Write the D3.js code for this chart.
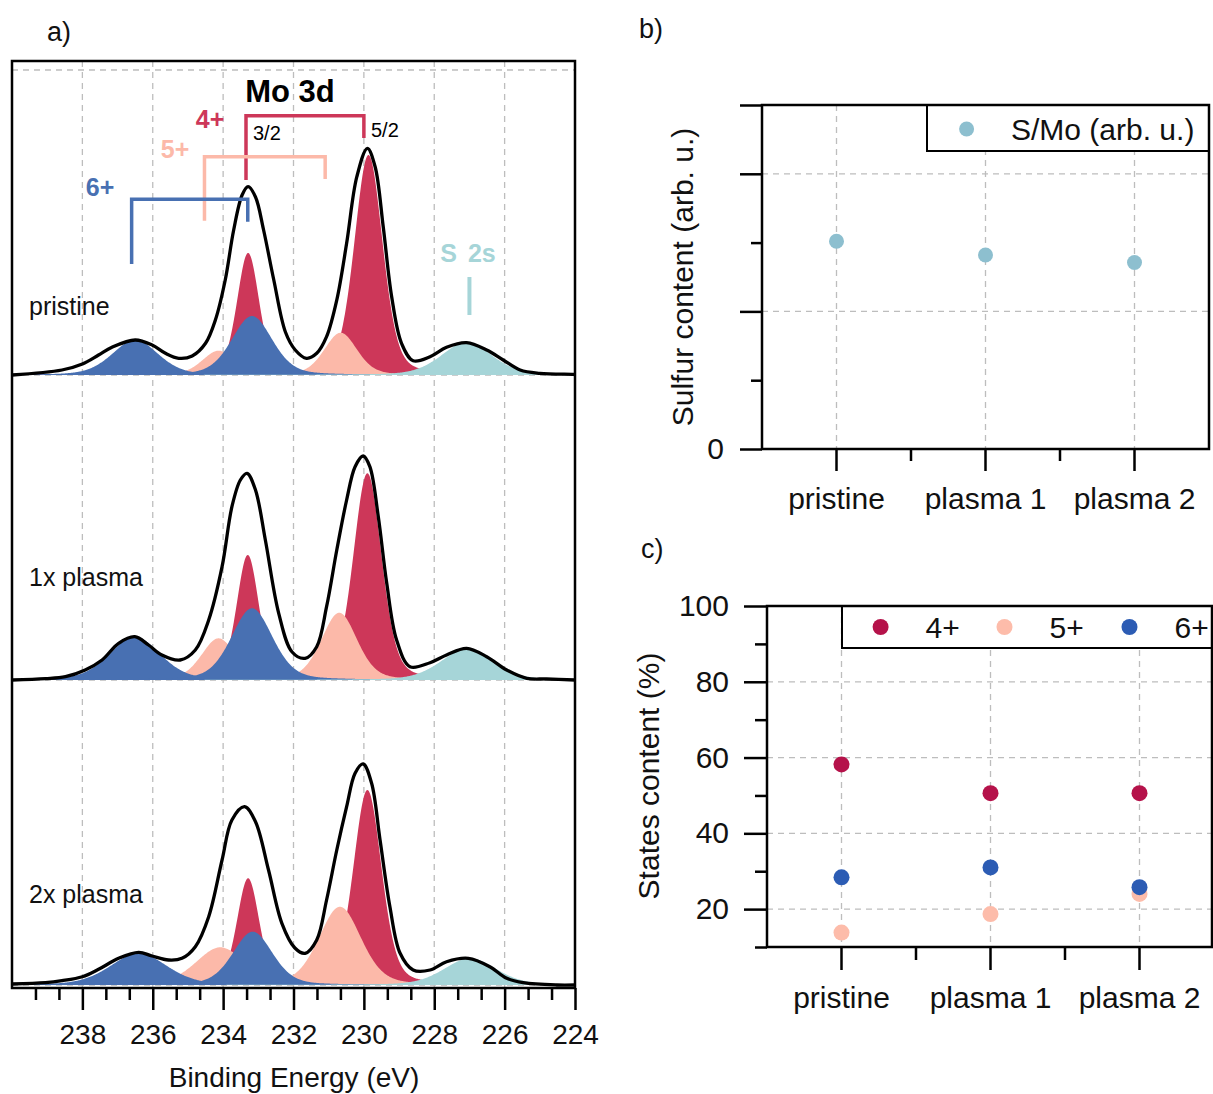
<!DOCTYPE html>
<html>
<head>
<meta charset="utf-8">
<script src="https://cdn.jsdelivr.net/npm/d3@7"></script>
<style>
  body { margin: 0; background: #fff; }
  text { font-family: Arial, "Liberation Sans", sans-serif; }
</style>
</head>
<body>
<script>
const W = 1213, H = 1094;

// ---- panel a: Mo 3d spectra ----
const energyTicks = [238, 236, 234, 232, 230, 228, 226, 224];
const spectrumLabels = ['pristine', '1x plasma', '2x plasma'];
const spectrumOffset = [610, 305, 0];

// measured envelopes (binding energy, intensity arb. u.)
const envPristineE = [240, 238.58, 238.0, 237.54, 237.16, 236.5, 236.02, 235.64, 235.26, 234.88, 234.5, 234.22, 233.94, 233.7, 233.46, 233.29, 233.08, 232.85, 232.56, 232.23, 231.95, 231.63, 231.34, 231.06, 230.77, 230.49, 230.2, 229.9, 229.68, 229.45, 229.21, 228.93, 228.6, 228.12, 227.65, 227.08, 226.51, 226.04, 225.56, 225.0, 224.05, 224];
const envPristineI = [0, 5, 11, 20, 27.7, 35, 30, 21.7, 16.7, 19, 31.7, 55, 95, 145, 180, 188.3, 178, 145, 95, 43, 25, 16.7, 21.7, 38.3, 75, 131.7, 198.3, 226.7, 208.3, 148.3, 78.3, 31.7, 14.3, 18.3, 27.7, 32.3, 25, 15, 5, 1.7, 0.7, 0.5];
const envPlasma1E = [240, 239.05, 238.48, 237.92, 237.44, 236.97, 236.51, 236.12, 235.74, 235.22, 234.79, 234.41, 234.03, 233.75, 233.51, 233.32, 233.08, 232.8, 232.42, 232.04, 231.67, 231.34, 231.06, 230.77, 230.49, 230.25, 230.02, 229.83, 229.59, 229.35, 229.07, 228.69, 228.12, 227.65, 227.08, 226.51, 225.94, 225.37, 224.81, 224];
const envPlasma1I = [0, 1.3, 3.3, 10, 20, 36.7, 43.3, 35, 25, 20, 30, 60, 113.3, 173.3, 200, 206.7, 190, 140, 66.7, 28, 21.7, 33.3, 73.3, 130, 180, 213.3, 224, 213.3, 163.3, 96.7, 40, 13.3, 17.3, 25, 31.7, 23.3, 10, 1.7, 1, 0];
const envPlasma2E = [240, 239.05, 238.58, 238.0, 237.54, 236.97, 236.4, 236.02, 235.55, 235.17, 234.79, 234.41, 234.03, 233.75, 233.39, 233.08, 232.71, 232.33, 231.96, 231.67, 231.34, 231.06, 230.77, 230.49, 230.25, 230.02, 229.78, 229.54, 229.26, 228.97, 228.6, 228.12, 227.65, 227.03, 226.42, 225.94, 225.47, 224.52, 224];
const envPlasma2I = [1, 2.3, 4.3, 8.3, 15.7, 26.7, 32.7, 29, 25, 26.7, 38.3, 68.3, 125, 165, 178.3, 163.3, 115, 61.7, 37, 31.7, 45, 85, 135, 178.3, 211.7, 221, 201.7, 145, 78.3, 31.7, 15, 15, 23.3, 26.7, 18.3, 6.7, 2.3, 0, 0];

// fitted components: 4+ (3/2, 5/2), 5+ (3/2, 5/2), 6+ (3/2, 5/2), S 2s
const componentState = ['4+', '4+', '5+', '5+', '6+', '6+', 'S 2s'];
const centerPristine = [233.29, 229.87, 234.13, 230.66, 236.5, 233.18, 227.08];
const heightPristine = [122, 220, 24.3, 42.3, 35, 59, 32.7];
const fwhmPristine   = [0.75, 0.95, 1.1, 1.1, 1.55, 1.36, 1.7];
const centerPlasma1  = [233.3, 229.9, 234.13, 230.7, 236.51, 233.18, 227.08];
const heightPlasma1  = [125, 206.7, 41.7, 67.3, 43.3, 71.7, 30.7];
const fwhmPlasma1    = [0.75, 0.95, 1.15, 1.2, 1.7, 1.38, 1.75];
const centerPlasma2  = [233.29, 229.9, 234.08, 230.68, 236.4, 233.16, 226.98];
const heightPlasma2  = [106.7, 195, 37.7, 78.3, 31.7, 53.3, 26.7];
const fwhmPlasma2    = [0.75, 0.95, 1.65, 1.42, 1.9, 1.33, 1.75];

// ---- panel b: S/Mo ratio ----
const samples = ['pristine', 'plasma 1', 'plasma 2'];
const sulfurContent = [1.51, 1.41, 1.355];

// ---- panel c: oxidation states ----
const states = ['4+', '5+', '6+'];
const state4 = [58.2, 50.6, 50.6];
const state5 = [13.8, 18.7, 24.0];
const state6 = [28.4, 31.0, 25.8];
const stateTicks = [20, 40, 60, 80, 100];

const fillColor = {'4+': '#cd3759', '5+': '#fcb9a9', '6+': '#4870b2', 'S 2s': '#a6d5d8'};
const dotColor = {'4+': '#b5124a', '5+': '#fdbcaa', '6+': '#2c5cb4'};
const gridColor = '#bdbdbd';
const FONT = 'Arial, "Liberation Sans", sans-serif';

const svg = d3.select('body').append('svg')
    .attr('width', W).attr('height', H);

// pseudo-Voigt line shape of a fitted component
const pv = (e, c, h, w) => {
    const t = (e - c) / w;
    return h * (0.7 * Math.exp(-4 * Math.LN2 * t * t) + 0.3 / (1 + 4 * t * t));
};

// ================= panel a =================
const xa = d3.scaleLinear().domain([240, 224]).range([12, 575]);
const ya = d3.scaleLinear().domain([-3, 924]).range([988, 61]);
const ga = svg.append('g');

ga.append('clipPath').attr('id', 'clipA')
    .append('rect').attr('x', 12).attr('y', 61).attr('width', 563).attr('height', 927);

// grid
ga.selectAll('.vgrid').data(energyTicks.slice(0, -1)).enter().append('line')
    .attr('x1', d => xa(d)).attr('x2', d => xa(d))
    .attr('y1', ya(924)).attr('y2', ya(-3))
    .attr('stroke', gridColor).attr('stroke-width', 1.3).attr('stroke-dasharray', '6,5');
ga.selectAll('.hgrid').data([0, 305, 610, 915]).enter().append('line')
    .attr('x1', xa(240)).attr('x2', xa(224))
    .attr('y1', d => ya(d)).attr('y2', d => ya(d))
    .attr('stroke', gridColor).attr('stroke-width', 1.3).attr('stroke-dasharray', '6,5');

const grid = d3.range(224, 240.001, 0.02);
const fits = [
    {c: centerPristine, h: heightPristine, w: fwhmPristine, eE: envPristineE, eI: envPristineI},
    {c: centerPlasma1, h: heightPlasma1, w: fwhmPlasma1, eE: envPlasma1E, eI: envPlasma1I},
    {c: centerPlasma2, h: heightPlasma2, w: fwhmPlasma2, eE: envPlasma2E, eI: envPlasma2I}
];
const drawOrder = ['4+', '5+', '6+', 'S 2s'];
const plot = ga.append('g').attr('clip-path', 'url(#clipA)');

fits.forEach((f, s) => {
    const off = spectrumOffset[s];
    drawOrder.forEach(st => {
        componentState.forEach((cs, i) => {
            if (cs !== st) return;
            const area = d3.area()
                .x(e => xa(e))
                .y0(ya(off))
                .y1(e => ya(off + pv(e, f.c[i], f.h[i], f.w[i])));
            plot.append('path').attr('d', area(grid))
                .attr('fill', fillColor[st]);
        });
    });
    const env = d3.line()
        .x(i => xa(f.eE[i]))
        .y(i => ya(off + f.eI[i]))
        .curve(d3.curveCatmullRom.alpha(0.5));
    plot.append('path').attr('d', env(d3.range(f.eE.length)))
        .attr('fill', 'none').attr('stroke', '#000').attr('stroke-width', 3.3)
        .attr('stroke-linejoin', 'round');
});

// sample names
const labelY = [315, 586, 903];
ga.selectAll('.slab').data(spectrumLabels).enter().append('text')
    .attr('x', 29).attr('y', (d, i) => labelY[i])
    .attr('font-size', 25).attr('fill', '#111').text(d => d);

// frame
ga.append('rect').attr('x', 12).attr('y', 61).attr('width', 563).attr('height', 927)
    .attr('fill', 'none').attr('stroke', '#000').attr('stroke-width', 2.5);

// bottom axis: major + minor ticks
const axA = ga.append('g').attr('transform', `translate(0,${ya(-3)})`)
    .call(d3.axisBottom(xa).tickValues(energyTicks).tickSize(22).tickPadding(14).tickFormat(d3.format('d')));
axA.select('.domain').remove();
axA.selectAll('line').attr('stroke-width', 2.5);
axA.selectAll('text').attr('font-size', 28).attr('fill', '#111').attr('font-family', FONT);
const minorA = d3.range(1, 24).map(i => 240 - i * 2 / 3).filter((d, i) => (i + 1) % 3 !== 0);
const axAm = ga.append('g').attr('transform', `translate(0,${ya(-3)})`)
    .call(d3.axisBottom(xa).tickValues(minorA).tickSize(12).tickFormat(''));
axAm.select('.domain').remove();
axAm.selectAll('line').attr('stroke-width', 2.5);

ga.append('text').attr('x', 294).attr('y', 1087).attr('text-anchor', 'middle')
    .attr('font-size', 28).attr('fill', '#111').text('Binding Energy (eV)');

// annotations: spin-orbit brackets (energy, intensity)
const brackets = [
    {st: '4+', e1: 233.35, e2: 230.0, top: 869.3, b1: 805, b2: 847},
    {st: '5+', e1: 234.53, e2: 231.1, top: 828.3, b1: 764.3, b2: 806},
    {st: '6+', e1: 236.6, e2: 233.3, top: 785.7, b1: 721, b2: 763.3}
];
ga.selectAll('.br').data(brackets).enter().append('path')
    .attr('d', d => d3.line()([[xa(d.e1), ya(d.b1)], [xa(d.e1), ya(d.top)], [xa(d.e2), ya(d.top)], [xa(d.e2), ya(d.b2)]]))
    .attr('fill', 'none').attr('stroke', d => fillColor[d.st]).attr('stroke-width', 3.5);
ga.append('line').attr('x1', xa(227.0)).attr('x2', xa(227.0))
    .attr('y1', ya(708)).attr('y2', ya(670))
    .attr('stroke', fillColor['S 2s']).attr('stroke-width', 4);

ga.append('text').attr('x', 290).attr('y', 102).attr('text-anchor', 'middle')
    .attr('font-size', 31).attr('font-weight', 'bold').attr('fill', '#000').text('Mo 3d');
const stLabels = [
    {t: '4+', x: 210, y: 128}, {t: '5+', x: 175, y: 158}, {t: '6+', x: 100, y: 196}
];
ga.selectAll('.stl').data(stLabels).enter().append('text')
    .attr('x', d => d.x).attr('y', d => d.y).attr('text-anchor', 'middle')
    .attr('font-size', 25).attr('font-weight', 'bold')
    .attr('fill', d => fillColor[d.t]).text(d => d.t);
ga.append('text').attr('x', 468).attr('y', 262).attr('text-anchor', 'middle')
    .attr('font-size', 25).attr('font-weight', 'bold').attr('fill', fillColor['S 2s'])
    .attr('word-spacing', 4).text('S 2s');
ga.append('text').attr('x', 253).attr('y', 140).attr('font-size', 20).text('3/2');
ga.append('text').attr('x', 371).attr('y', 137).attr('font-size', 20).text('5/2');

svg.append('text').attr('x', 47).attr('y', 41).attr('font-size', 27).attr('fill', '#111').text('a)');

// ================= panel b =================
const xb = d3.scaleBand().domain(samples).range([762, 1209]);
const yb = d3.scaleLinear().domain([0, 2.5]).range([449, 105]);
const gb = svg.append('g');
const cx = (sc, d) => sc(d) + sc.bandwidth() / 2;

gb.selectAll('.vg').data(samples).enter().append('line')
    .attr('x1', d => cx(xb, d)).attr('x2', d => cx(xb, d))
    .attr('y1', yb(2.5)).attr('y2', yb(0))
    .attr('stroke', gridColor).attr('stroke-width', 1.3).attr('stroke-dasharray', '6,5');
gb.selectAll('.hg').data([1, 2]).enter().append('line')
    .attr('x1', 762).attr('x2', 1209)
    .attr('y1', d => yb(d)).attr('y2', d => yb(d))
    .attr('stroke', gridColor).attr('stroke-width', 1.3).attr('stroke-dasharray', '6,5');

gb.selectAll('.dot').data(sulfurContent).enter().append('circle')
    .attr('cx', (d, i) => cx(xb, samples[i])).attr('cy', d => yb(d))
    .attr('r', 7.5).attr('fill', '#8dbfcf');

// legend b
gb.append('rect').attr('x', 927).attr('y', 105).attr('width', 282).attr('height', 46)
    .attr('fill', '#fff').attr('stroke', '#000').attr('stroke-width', 2);
gb.append('circle').attr('cx', 966.6).attr('cy', 129).attr('r', 7.5).attr('fill', '#8dbfcf');
gb.append('text').attr('x', 1011).attr('y', 140).attr('font-size', 30).attr('fill', '#111').text('S/Mo (arb. u.)');

gb.append('rect').attr('x', 762).attr('y', 105).attr('width', 447).attr('height', 344)
    .attr('fill', 'none').attr('stroke', '#000').attr('stroke-width', 2.5);

const axBx = gb.append('g').attr('transform', 'translate(0,449)')
    .call(d3.axisBottom(xb).tickSize(22).tickPadding(17));
axBx.select('.domain').remove();
axBx.selectAll('line').attr('stroke-width', 2.5);
axBx.selectAll('text').attr('font-size', 30).attr('fill', '#111').attr('font-family', FONT);
const axBm = gb.append('g').attr('transform', 'translate(0,449)')
    .call(d3.axisBottom(d3.scaleLinear().range([0, 1])).tickValues([xb(samples[1]), xb(samples[2])]).tickSize(12).tickFormat(''));
axBm.select('.domain').remove();
axBm.selectAll('.tick').attr('transform', d => `translate(${d},0)`);
axBm.selectAll('line').attr('stroke-width', 2.5);

const axBy = gb.append('g').attr('transform', 'translate(762,0)')
    .call(d3.axisLeft(yb).tickValues([0, 1, 2, 2.5]).tickSize(22).tickPadding(16)
        .tickFormat(d => d === 0 ? '0' : ''));
axBy.select('.domain').remove();
axBy.selectAll('line').attr('stroke-width', 2.5);
axBy.selectAll('text').attr('font-size', 30).attr('fill', '#111').attr('font-family', FONT);
const axByM = gb.append('g').attr('transform', 'translate(762,0)')
    .call(d3.axisLeft(yb).tickValues([0.5, 1.5]).tickSize(11).tickFormat(''));
axByM.select('.domain').remove();
axByM.selectAll('line').attr('stroke-width', 2.5);

gb.append('text').attr('transform', 'translate(693,277) rotate(-90)')
    .attr('text-anchor', 'middle').attr('font-size', 30).attr('fill', '#111')
    .text('Sulfur content (arb. u.)');
svg.append('text').attr('x', 639).attr('y', 38).attr('font-size', 27).attr('fill', '#111').text('b)');

// ================= panel c =================
const xc = d3.scaleBand().domain(samples).range([767, 1214]);
const yc = d3.scaleLinear().domain([10, 100]).range([947, 606]);
const gc = svg.append('g');

gc.selectAll('.vg').data(samples).enter().append('line')
    .attr('x1', d => cx(xc, d)).attr('x2', d => cx(xc, d))
    .attr('y1', yc(100)).attr('y2', yc(10))
    .attr('stroke', gridColor).attr('stroke-width', 1.3).attr('stroke-dasharray', '6,5');
gc.selectAll('.hg').data([20, 40, 60, 80]).enter().append('line')
    .attr('x1', 767).attr('x2', 1212)
    .attr('y1', d => yc(d)).attr('y2', d => yc(d))
    .attr('stroke', gridColor).attr('stroke-width', 1.3).attr('stroke-dasharray', '6,5');

const stateSeries = [state4, state5, state6];
stateSeries.forEach((vals, k) => {
    gc.selectAll('.d' + k).data(vals).enter().append('circle')
        .attr('cx', (d, i) => cx(xc, samples[i])).attr('cy', d => yc(d))
        .attr('r', 8).attr('fill', dotColor[states[k]]);
});

// legend c
gc.append('rect').attr('x', 842).attr('y', 606).attr('width', 370).attr('height', 42)
    .attr('fill', '#fff').attr('stroke', '#000').attr('stroke-width', 2);
const legX = [880.6, 1004.5, 1129.5];
gc.selectAll('.lc').data(states).enter().append('circle')
    .attr('cx', (d, i) => legX[i]).attr('cy', 627).attr('r', 8).attr('fill', d => dotColor[d]);
gc.selectAll('.lt').data(states).enter().append('text')
    .attr('x', (d, i) => legX[i] + 45).attr('y', 638)
    .attr('font-size', 30).attr('fill', '#111').text(d => d);

gc.append('rect').attr('x', 767).attr('y', 606).attr('width', 445).attr('height', 341)
    .attr('fill', 'none').attr('stroke', '#000').attr('stroke-width', 2.5);

const axCx = gc.append('g').attr('transform', 'translate(0,947)')
    .call(d3.axisBottom(xc).tickSize(23).tickPadding(17));
axCx.select('.domain').remove();
axCx.selectAll('line').attr('stroke-width', 2.5);
axCx.selectAll('text').attr('font-size', 30).attr('fill', '#111').attr('font-family', FONT);
const axCm = gc.append('g').attr('transform', 'translate(0,947)')
    .call(d3.axisBottom(d3.scaleLinear().range([0, 1])).tickValues([xc(samples[1]), xc(samples[2])]).tickSize(13).tickFormat(''));
axCm.select('.domain').remove();
axCm.selectAll('.tick').attr('transform', d => `translate(${d},0)`);
axCm.selectAll('line').attr('stroke-width', 2.5);

const axCy = gc.append('g').attr('transform', 'translate(767,0)')
    .call(d3.axisLeft(yc).tickValues(stateTicks).tickSize(23).tickPadding(15));
axCy.select('.domain').remove();
axCy.selectAll('line').attr('stroke-width', 2.5);
axCy.selectAll('text').attr('font-size', 30).attr('fill', '#111').attr('font-family', FONT);
const axCyM = gc.append('g').attr('transform', 'translate(767,0)')
    .call(d3.axisLeft(yc).tickValues([10, 30, 50, 70, 90]).tickSize(12).tickFormat(''));
axCyM.select('.domain').remove();
axCyM.selectAll('line').attr('stroke-width', 2.5);

gc.append('text').attr('transform', 'translate(659,776) rotate(-90)')
    .attr('text-anchor', 'middle').attr('font-size', 30).attr('fill', '#111')
    .text('States content (%)');
svg.append('text').attr('x', 641).attr('y', 558).attr('font-size', 27).attr('fill', '#111').text('c)');
</script>
</body>
</html>
